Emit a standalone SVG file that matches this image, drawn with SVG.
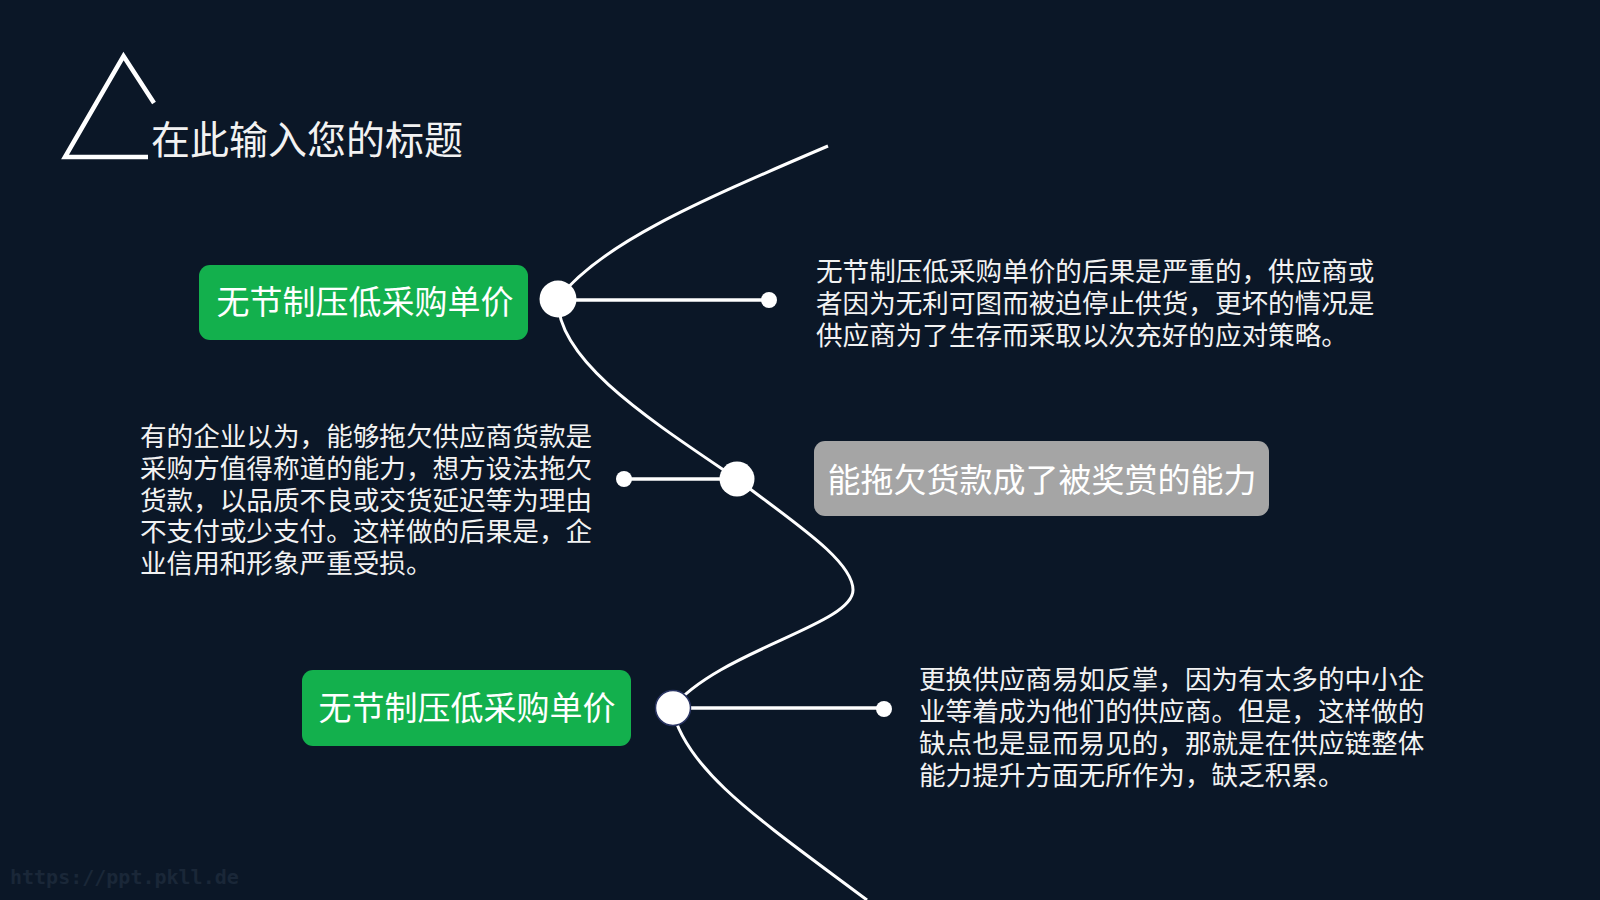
<svg xmlns="http://www.w3.org/2000/svg" width="1600" height="900" viewBox="0 0 1600 900">
<style>
.t{font-family:"Noto Sans CJK SC","Noto Sans",sans-serif;fill:#F2F2F2}
.body{font-size:26.6px}
.lbl{font-size:33px;fill:#FFFFFF;text-anchor:middle}
.curve{fill:none;stroke:#FFFFFF;stroke-width:3}
.stem{stroke:#FFFFFF;stroke-width:3.5}
.big{fill:#FFFFFF}
.dot{fill:#FFFFFF}
</style>
<rect x="0" y="0" width="1600" height="900" fill="#0B1727"/>
<g id="title">
<path d="M154 103 L123.5 56 L65 157 L148 157" fill="none" stroke="#FFFFFF" stroke-width="4.5" stroke-linejoin="miter"/>
<text class="t" x="151" y="154" font-size="39" fill="#FFFFFF">在此输入您的标题</text>
</g>
<g id="connectors">
<path class="curve" d="M828 146 C690 205 600 245 558 299 C556 360 650 420 737 479 C790 520 853 560 853 590 C853 625 720 650 672 708 C685 770 760 820 867 900"/>
<line class="stem" x1="558" y1="300" x2="769" y2="300"/>
<line class="stem" x1="624" y1="479" x2="737" y2="479"/>
<line class="stem" x1="672" y1="708" x2="884" y2="708"/>
</g>
<g id="node1">
<rect x="199" y="265" width="329" height="75" rx="11" fill="#13B04D"/>
<text class="t lbl" x="365" y="314">无节制压低采购单价</text>
<circle class="big" cx="558" cy="299" r="18.5"/>
<circle class="dot" cx="769" cy="300" r="8"/>
</g>
<g id="text1">
<text class="t body" x="816" y="281">无节制压低采购单价的后果是严重的，供应商或</text>
<text class="t body" x="816" y="313">者因为无利可图而被迫停止供货，更坏的情况是</text>
<text class="t body" x="816" y="345">供应商为了生存而采取以次充好的应对策略。</text>
</g>
<g id="node2">
<rect x="814" y="441" width="455" height="75" rx="11" fill="#A5A5A5"/>
<text class="t lbl" x="1042" y="492">能拖欠货款成了被奖赏的能力</text>
<circle class="big" cx="737" cy="479" r="17.5"/>
<circle class="dot" cx="624" cy="479" r="8"/>
</g>
<g id="text2">
<text class="t body" x="140" y="446">有的企业以为，能够拖欠供应商货款是</text>
<text class="t body" x="140" y="478">采购方值得称道的能力，想方设法拖欠</text>
<text class="t body" x="140" y="510">货款，以品质不良或交货延迟等为理由</text>
<text class="t body" x="140" y="541">不支付或少支付。这样做的后果是，企</text>
<text class="t body" x="140" y="573">业信用和形象严重受损。</text>
</g>
<g id="node3">
<rect x="302" y="670" width="329" height="76" rx="11" fill="#13B04D"/>
<text class="t lbl" x="467" y="720">无节制压低采购单价</text>
<circle class="big" cx="673" cy="708" r="17.5" stroke="#2A3563" stroke-width="1.5"/>
<circle class="dot" cx="884" cy="709" r="8"/>
</g>
<g id="text3">
<text class="t body" x="919" y="689">更换供应商易如反掌，因为有太多的中小企</text>
<text class="t body" x="919" y="721">业等着成为他们的供应商。但是，这样做的</text>
<text class="t body" x="919" y="753">缺点也是显而易见的，那就是在供应链整体</text>
<text class="t body" x="919" y="785">能力提升方面无所作为，缺乏积累。</text>
</g>
<g id="watermark">
<text x="10" y="884" font-family="'DejaVu Sans Mono','Liberation Mono',monospace" font-weight="bold" font-size="20" fill="#1A2738">https://ppt.pkll.de</text>
</g>
</svg>
